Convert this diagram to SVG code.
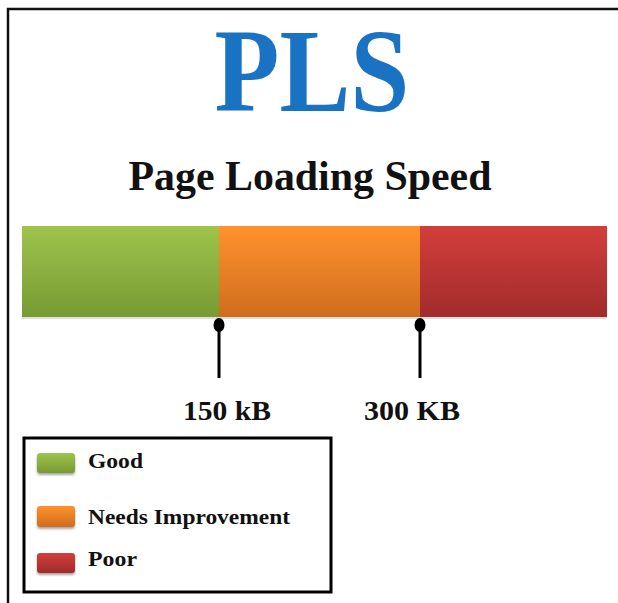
<svg xmlns="http://www.w3.org/2000/svg" width="618" height="603" viewBox="0 0 618 603">
<defs>
<linearGradient id="gGreen" x1="0" y1="0" x2="0" y2="1"><stop offset="0" stop-color="#9fc44b"/><stop offset="1" stop-color="#789a34"/></linearGradient>
<linearGradient id="gOrange" x1="0" y1="0" x2="0" y2="1"><stop offset="0" stop-color="#ff922c"/><stop offset="1" stop-color="#cf6d1e"/></linearGradient>
<linearGradient id="gRed" x1="0" y1="0" x2="0" y2="1"><stop offset="0" stop-color="#d23f3b"/><stop offset="1" stop-color="#a22b2b"/></linearGradient>
<filter id="sh" x="-20%" y="-20%" width="140%" height="160%"><feDropShadow dx="0" dy="2" stdDeviation="1.2" flood-opacity="0.35"/></filter>
</defs>
<style>
text{font-family:'Times New Roman','Liberation Serif',Tinos,Times,'Nimbus Roman',serif;font-weight:bold;fill:#111}
.tick{stroke:#000;stroke-width:3}
</style>
<rect width="618" height="603" fill="#fff"/>
<g id="frame" fill="none" stroke="#111" stroke-width="2.5">
<path d="M8 603 V9 H618"/>
</g>
<g id="title">
<text x="312" y="111" text-anchor="middle" font-size="118" textLength="195" lengthAdjust="spacingAndGlyphs" style="fill:#1a72c2">PLS</text>
<text x="310" y="190" text-anchor="middle" font-size="42" textLength="363" lengthAdjust="spacingAndGlyphs">Page Loading Speed</text>
</g>
<g id="bar">
<rect x="22" y="228" width="585" height="91" fill="#000" opacity="0.12"/>
<rect id="good" x="22" y="226" width="197" height="91" fill="url(#gGreen)"/>
<rect id="needs" x="219" y="226" width="201" height="91" fill="url(#gOrange)"/>
<rect id="poor" x="420" y="226" width="187" height="91" fill="url(#gRed)"/>
</g>
<g id="markers">
<line class="tick" x1="219" y1="322" x2="219" y2="378"/>
<ellipse cx="219" cy="325" rx="5.5" ry="7" fill="#000"/>
<line class="tick" x1="420" y1="322" x2="420" y2="378"/>
<ellipse cx="420" cy="325" rx="5.5" ry="7" fill="#000"/>
</g>
<g id="labels">
<text x="183" y="420" font-size="28" textLength="88" lengthAdjust="spacingAndGlyphs">150 kB</text>
<text x="364" y="420" font-size="28" textLength="96" lengthAdjust="spacingAndGlyphs">300 KB</text>
</g>
<g id="legend">
<rect x="24" y="438" width="307" height="154" fill="none" stroke="#000" stroke-width="3"/>
<rect x="37" y="453" width="38" height="20" rx="3" fill="url(#gGreen)" filter="url(#sh)"/>
<rect x="37" y="506" width="38" height="21" rx="3" fill="url(#gOrange)" filter="url(#sh)"/>
<rect x="37" y="553" width="38" height="20" rx="3" fill="url(#gRed)" filter="url(#sh)"/>
<text x="88" y="468" font-size="22" textLength="55" lengthAdjust="spacingAndGlyphs">Good</text>
<text x="88" y="524" font-size="22" textLength="202" lengthAdjust="spacingAndGlyphs">Needs Improvement</text>
<text x="88" y="566" font-size="22" textLength="49" lengthAdjust="spacingAndGlyphs">Poor</text>
</g>
</svg>
